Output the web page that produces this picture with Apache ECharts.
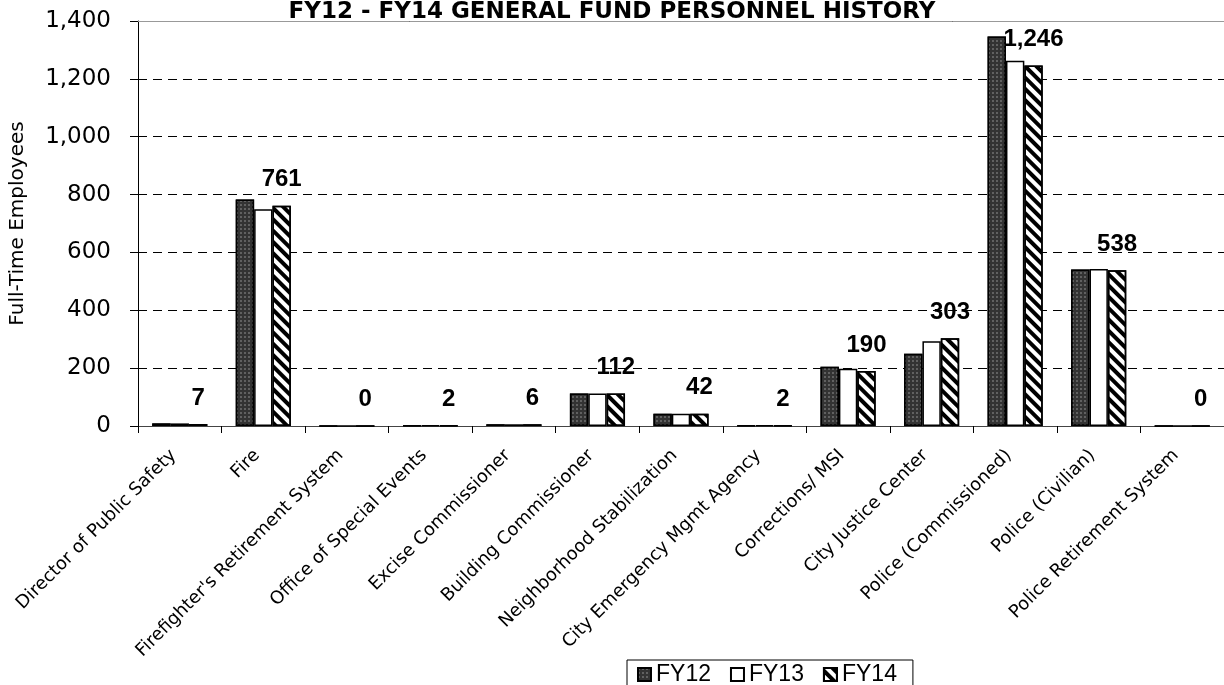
<!DOCTYPE html>
<html>
<head>
<meta charset="utf-8">
<script src="https://cdn.jsdelivr.net/npm/echarts@6/dist/echarts.min.js"></script>
<style>
  html, body { margin: 0; padding: 0; background: #fff; }
  #chart { width: 1224px; height: 685px; }
</style>
</head>
<body>
<div id="chart"></div>
<script>
// departments
var categories = [
  'Director of Public Safety', 'Fire', "Firefighter's Retirement System",
  'Office of Special Events', 'Excise Commissioner', 'Building Commissioner',
  'Neighborhood Stabilization', 'City Emergency Mgmt Agency', 'Corrections/ MSI',
  'City Justice Center', 'Police (Commissioned)', 'Police (Civilian)',
  'Police Retirement System'
];
// full-time employees per year
var fy12 = [9, 783, 0, 2, 6, 112, 42, 2, 205, 250, 1346, 541, 0];
var fy13 = [9, 749, 0, 2, 6, 112, 42, 2, 198, 293, 1263, 543, 0];
var fy14 = [7, 761, 0, 2, 6, 112, 42, 2, 190, 303, 1246, 538, 0];
var yTicks = [0, 200, 400, 600, 800, 1000, 1200, 1400];

var chart = echarts.init(document.getElementById('chart'));

var fmt = function (v) { return String(v).replace(/\B(?=(\d{3})+(?!\d))/g, ','); };

var option = {
  animation: false,
  title: {
    text: 'FY12 - FY14 GENERAL FUND PERSONNEL HISTORY',
    left: 'center',
    top: 1,
    padding: 0,
    textStyle: { fontFamily: 'DejaVu Sans', fontWeight: 'bold', fontSize: 23, color: '#000' }
  },
  legend: {
    left: 627,
    top: 660,
    padding: [3, 16, 10, 10],
    borderColor: '#000',
    borderWidth: 1,
    itemGap: 19,
    itemWidth: 13,
    itemHeight: 13,
    icon: 'rect',
    textStyle: { fontFamily: 'Liberation Sans', fontSize: 23, color: '#000' },
    data: ['FY12', 'FY13', 'FY14']
  },
  grid: { left: 137, right: 0, top: 21, bottom: 259 },
  xAxis: [{
    type: 'category',
    data: categories,
    axisLine: { lineStyle: { color: '#444', width: 1 } },
    axisTick: { show: true, length: 7, lineStyle: { color: '#000' } },
    axisLabel: {
      interval: 0, rotate: 45, margin: 33, verticalAlign: 'bottom',
      fontFamily: 'DejaVu Sans', fontSize: 18, color: '#000'
    }
  }, {
    type: 'category',
    position: 'top',
    data: categories,
    axisLine: { show: true, lineStyle: { color: '#999', width: 1 } },
    axisTick: { show: false },
    axisLabel: { show: false }
  }],
  yAxis: {
    type: 'value',
    min: yTicks[0],
    max: yTicks[yTicks.length - 1],
    interval: 200,
    name: 'Full-Time Employees',
    nameLocation: 'middle',
    nameGap: 110,
    nameTextStyle: { fontFamily: 'DejaVu Sans', fontSize: 20, color: '#000' },
    axisLine: { show: true, lineStyle: { color: '#000' } },
    axisTick: { show: true, length: 8, lineStyle: { color: '#000' } },
    axisLabel: {
      margin: 27, fontFamily: 'DejaVu Sans', fontSize: 23, color: '#000',
      formatter: fmt
    },
    splitLine: { show: true, lineStyle: { color: '#000', type: [9, 6], width: 1 } }
  },
  series: [{
    name: 'FY12',
    type: 'bar',
    data: fy12,
    barGap: '0%',
    barCategoryGap: '34%',
    itemStyle: {
      color: '#333',
      borderColor: '#000',
      borderWidth: 1.5,
      decal: { symbol: 'rect', symbolSize: 0.6, color: '#ccc', dashArrayX: [2, 2], dashArrayY: [2, 2] }
    }
  }, {
    name: 'FY13',
    type: 'bar',
    data: fy13,
    itemStyle: { color: '#fff', borderColor: '#000', borderWidth: 1.5 }
  }, {
    name: 'FY14',
    type: 'bar',
    data: fy14,
    itemStyle: {
      color: '#fff',
      borderColor: '#000',
      borderWidth: 1.5,
      decal: { symbol: 'rect', symbolSize: 1, color: '#000', dashArrayX: [1, 0], dashArrayY: [3.5, 3.5], rotation: Math.PI / 4 }
    },
    label: {
      show: true,
      position: 'top',
      distance: 14,
      fontFamily: 'Liberation Sans',
      fontWeight: 'bold',
      fontSize: 24,
      color: '#000',
      formatter: function (p) { return fmt(p.value); }
    }
  }]
};

chart.setOption(option);
</script>
</body>
</html>
